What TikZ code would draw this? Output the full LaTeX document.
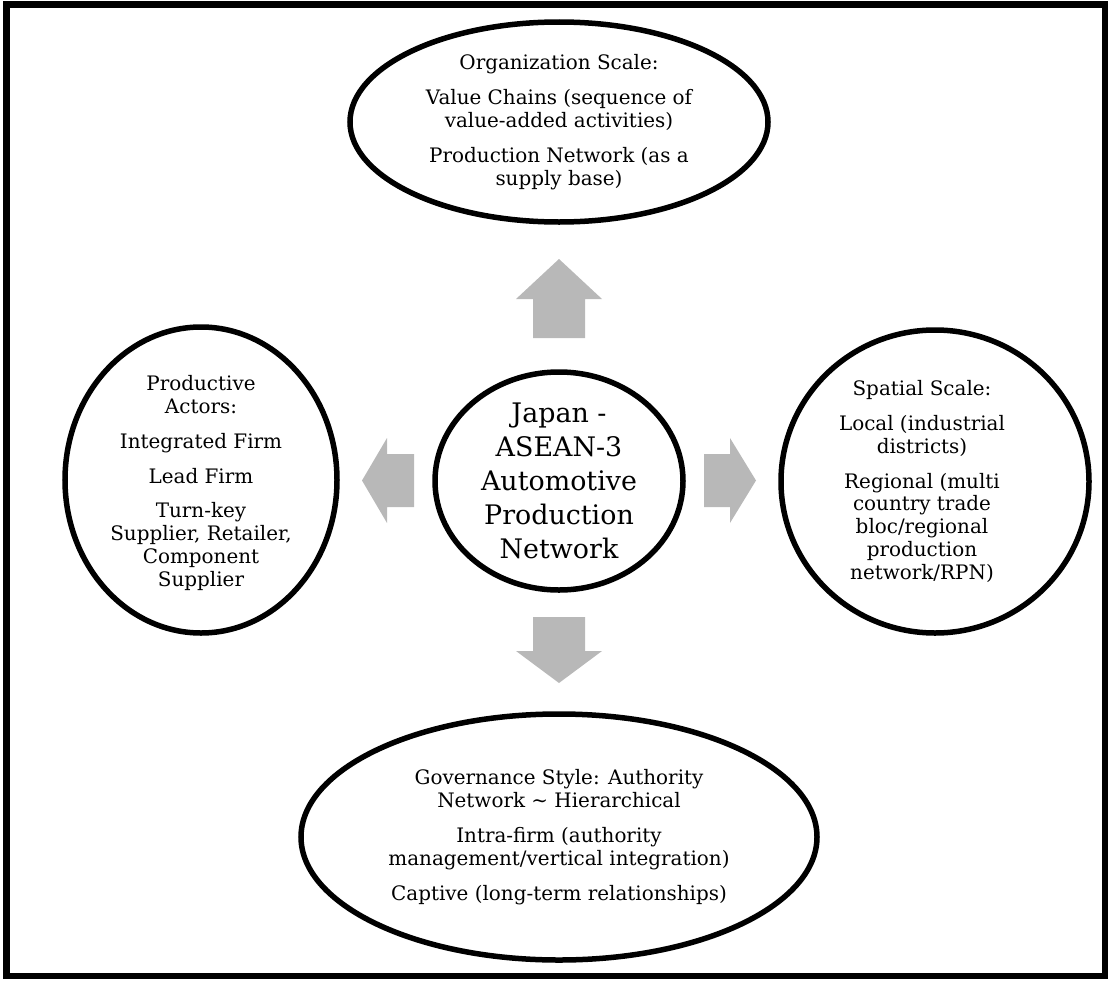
\documentclass[tikz,border=0pt]{standalone}
\usepackage{fontspec}
\setmainfont{DejaVu Serif}
\usetikzlibrary{shapes.geometric}
\definecolor{arrowgray}{RGB}{184,184,184}
\begin{document}
\begin{tikzpicture}[x=1bp,y=-1bp,
  bubble/.style={draw=black, line width=5.5bp, ellipse, inner sep=0pt},
  bubtext/.style={align=center, inner sep=0pt, font=\fontsize{20}{23}\selectfont},
  bigtext/.style={align=center, inner sep=0pt, font=\fontsize{27}{34}\selectfont},
  blockarrow/.style={fill=arrowgray, draw=none}]
\useasboundingbox (0,0) rectangle (1112,981);
\draw[line width=6.5bp] (6.5,4.5) rectangle (1105,976);

% ellipses
\node[bubble, minimum width=418bp, minimum height=200bp] (org) at (559,122) {};
\node[bubble, minimum width=272bp, minimum height=306bp] (act) at (201,480) {};
\node[bubble, minimum width=248bp, minimum height=218bp] (core) at (559,481) {};
\node[bubble, minimum width=308bp, minimum height=303bp] (spa) at (935,481.5) {};
\node[bubble, minimum width=516bp, minimum height=246bp] (gov) at (559,837) {};

% texts
\node[bubtext] (orgt) at (org.center) {Organization Scale:\\[12bp]
Value Chains (sequence of\\value-added activities)\\[12bp]
Production Network (as a\\supply base)};
\node[bubtext] (actt) at ([yshift=-3bp]act.center) {Productive\\Actors:\\[12bp]
Integrated Firm\\[12bp]
Lead Firm\\[12bp]
Turn-key\\Supplier, Retailer,\\Component\\Supplier};
\node[bigtext] (coret) at (core.center) {Japan -\\ASEAN-3\\Automotive\\Production\\Network};
\node[bubtext] (spat) at ([xshift=-13bp]spa.center) {Spatial Scale:\\[12bp]
Local (industrial\\districts)\\[12bp]
Regional (multi\\country trade\\bloc/regional\\production\\network/RPN)};
\node[bubtext] (govt) at (gov.center) {Governance Style: Authority\\Network \textasciitilde{} Hierarchical\\[12bp]
Intra-firm (authority\\management/vertical integration)\\[12bp]
Captive (long-term relationships)};

% block arrows
\fill[blockarrow] (533,338) -- (533,299) -- (516,299) -- (559,259) -- (602,299) -- (585,299) -- (585,338) -- cycle;
\fill[blockarrow] (533,617) -- (533,651) -- (516,651) -- (559,683) -- (602,651) -- (585,651) -- (585,617) -- cycle;
\fill[blockarrow] (414,454) -- (387,454) -- (387,438) -- (362,480.5) -- (387,523) -- (387,507) -- (414,507) -- cycle;
\fill[blockarrow] (704,454) -- (730,454) -- (730,438) -- (756,480.5) -- (730,523) -- (730,507) -- (704,507) -- cycle;
\end{tikzpicture}
\end{document}
